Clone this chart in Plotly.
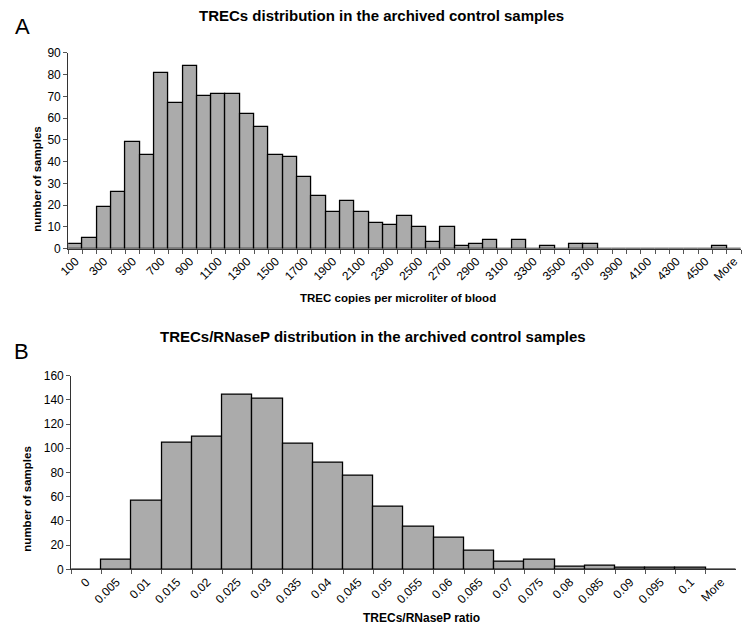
import plotly.graph_objects as go

W, H = 743, 634

# ---- Chart A data ----
trec_bins = ["100", "200", "300", "400", "500", "600", "700", "800", "900", "1000",
             "1100", "1200", "1300", "1400", "1500", "1600", "1700", "1800", "1900", "2000",
             "2100", "2200", "2300", "2400", "2500", "2600", "2700", "2800", "2900", "3000",
             "3100", "3200", "3300", "3400", "3500", "3600", "3700", "3800", "3900", "4000",
             "4100", "4200", "4300", "4400", "4500", "4600", "More"]
trec_counts = [2, 5, 19, 26, 49, 43, 81, 67, 84, 70,
               71, 71, 62, 56, 43, 42, 33, 24, 17, 22,
               17, 12, 11, 15, 10, 3, 10, 1, 2, 4,
               0, 4, 0, 1, 0, 2, 2, 0, 0, 0,
               0, 0, 0, 0, 0, 1, 0]
trec_ticklabels = ["100", "", "300", "", "500", "", "700", "", "900", "",
                   "1100", "", "1300", "", "1500", "", "1700", "", "1900", "",
                   "2100", "", "2300", "", "2500", "", "2700", "", "2900", "",
                   "3100", "", "3300", "", "3500", "", "3700", "", "3900", "",
                   "4100", "", "4300", "", "4500", "", "More"]

# ---- Chart B data ----
ratio_bins = ["0", "0.005", "0.01", "0.015", "0.02", "0.025", "0.03", "0.035", "0.04", "0.045",
              "0.05", "0.055", "0.06", "0.065", "0.07", "0.075", "0.08", "0.085", "0.09", "0.095",
              "0.1", "More"]
ratio_counts = [0, 8, 57, 105, 110, 144, 141, 104, 88, 77,
                52, 35, 26, 15, 6, 8, 2, 3, 1, 1,
                1, 0]

FONT = "Liberation Sans, Arial, sans-serif"
BAR_FILL = "#ababab"

fig = go.Figure()
fig.add_trace(go.Bar(x=trec_bins, y=trec_counts, xaxis="x", yaxis="y",
                     marker=dict(color=BAR_FILL, line=dict(color="black", width=1.3)),
                     width=1.0, showlegend=False))
fig.add_trace(go.Bar(x=ratio_bins, y=ratio_counts, xaxis="x2", yaxis="y2",
                     marker=dict(color=BAR_FILL, line=dict(color="black", width=1.3)),
                     width=1.0, showlegend=False))

def px_x(p):
    return p / W

def px_y(p):
    return 1 - p / H

axis_common = dict(showgrid=False, zeroline=False, showline=True, linecolor="#333333",
                   linewidth=1, ticks="outside", tickcolor="#555555", ticklen=4,
                   tickfont=dict(family=FONT, size=12, color="black"))
ytick_font = dict(family=FONT, size=12, color="black")

fig.update_layout(
    width=W, height=H,
    margin=dict(l=0, r=0, t=0, b=0),
    paper_bgcolor="white", plot_bgcolor="white",
    bargap=0,
    xaxis=dict(domain=[px_x(59), px_x(741)], anchor="y", type="category",
               tickson="boundaries", tickangle=-45,
               tickmode="array", tickvals=trec_bins, ticktext=trec_ticklabels,
               range=[-0.5, len(trec_bins) - 0.5], **axis_common),
    yaxis=dict(domain=[px_y(247), px_y(47)], anchor="x", range=[0, 90], dtick=10,
               **{**axis_common, "tickfont": ytick_font}),
    xaxis2=dict(domain=[px_x(62), px_x(736)], anchor="y2", type="category",
                tickson="boundaries", tickangle=-45,
                tickmode="array", tickvals=ratio_bins, ticktext=ratio_bins,
                range=[-0.5, len(ratio_bins) - 0.5], **axis_common),
    yaxis2=dict(domain=[px_y(575), px_y(377)], anchor="x2", range=[0, 160], dtick=20,
                **{**axis_common, "tickfont": ytick_font}),
)

ann = []
def add_text(text, x, y, size, bold=False, angle=0, xanchor="center", yanchor="middle"):
    t = f"<b>{text}</b>" if bold else text
    ann.append(dict(text=t, x=px_x(x), y=px_y(y), xref="paper", yref="paper",
                    showarrow=False, textangle=angle, xanchor=xanchor, yanchor=yanchor,
                    font=dict(family=FONT, size=size, color="black")))

add_text("TRECs distribution in the archived control samples", 377, 9, 15, bold=True)
add_text("A", 3, 20, 22, xanchor="left")
add_text("number of samples", 27, 176, 11.5, bold=True, angle=-90)
add_text("TREC copies per microliter of blood", 393, 298, 11.5, bold=True)

add_text("TRECs/RNaseP distribution in the archived control samples", 368, 337, 15, bold=True)
add_text("B", 2, 352, 22, xanchor="left")
add_text("number of samples", 17, 503, 11.5, bold=True, angle=-90)
add_text("TRECs/RNaseP ratio", 417, 625, 12, bold=True)

fig.update_layout(annotations=ann)
fig.write_html("out.html", config={"displayModeBar": False},
               post_script="document.body.style.margin='0';")
